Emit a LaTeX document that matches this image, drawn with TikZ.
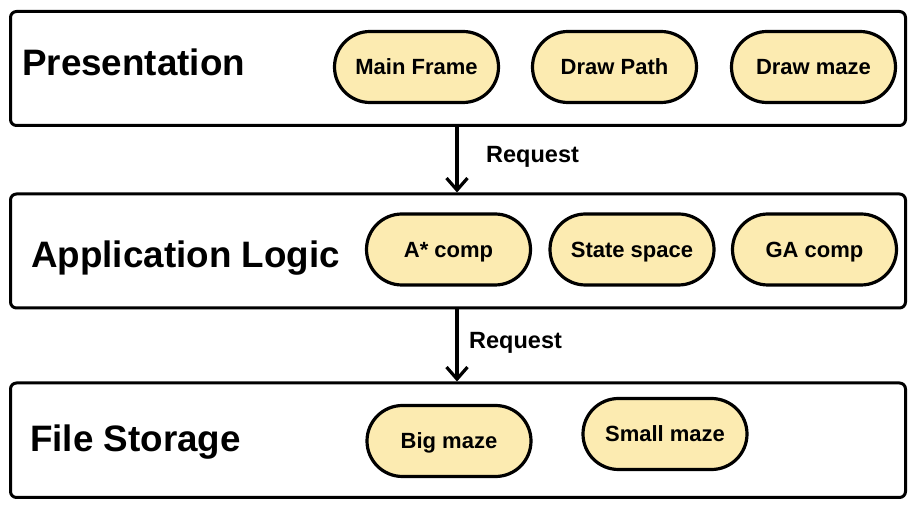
\documentclass[tikz,border=0pt]{standalone}
\usepackage{fontspec}
\setmainfont{Liberation Sans}
\usetikzlibrary{arrows.meta}
\definecolor{pillfill}{HTML}{FCEBB1}
\tikzset{
  layerbox/.style={draw=black, line width=3pt, rounded corners=6pt, fill=white,
    minimum width=895pt, minimum height=114pt, inner sep=0pt},
  heading/.style={anchor=base west, inner sep=0pt, font=\bfseries\fontsize{36.8}{42}\selectfont},
  pill/.style={draw=black, line width=3.2pt, fill=pillfill, rounded corners=35.5pt,
    minimum width=164pt, minimum height=71pt, inner sep=0pt,
    text height=15.7pt, text depth=0pt, font=\bfseries\fontsize{22}{25}\selectfont},
  reqlabel/.style={anchor=base west, inner sep=0pt, font=\bfseries\fontsize{23.5}{26}\selectfont},
  reqarrow/.style={line width=3.2pt, -{Straight Barb[length=12pt,width=21pt]}}
}
\begin{document}
\begin{tikzpicture}[x=1pt, y=-1pt]
\useasboundingbox (0,0) rectangle (922,510);
% layers
\node[layerbox] (pres) at (458,68.5) {};
\node[layerbox] (app)  at (458,251) {};
\node[layerbox, minimum height=114.5pt] (file) at (458,440.25) {};
% headings
\node[heading] (presT) at (22,75.5) {Presentation};
\node[heading] (appT)  at (31,267.5) {Application Logic};
\node[heading] (fileT) at (30,452) {File Storage};
% pills
\node[pill] (mf) at (416.5,67) {Main Frame};
\node[pill] (dp) at (614.5,67) {Draw Path};
\node[pill] (dm) at (813.5,67) {Draw maze};
\node[pill] (as) at (448.5,249.5) {A* comp};
\node[pill] (ss) at (632,249.5) {State space};
\node[pill] (ga) at (814.5,249.5) {GA comp};
\node[pill] (bm) at (449,441) {Big maze};
\node[pill] (sm) at (665,434) {Small maze};
% arrows
\draw[reqarrow] ([xshift=-1pt]pres.south) -- ([xshift=-1pt]app.north);
\draw[reqarrow] ([xshift=-1pt]app.south) -- ([xshift=-1pt]file.north);
\node[reqlabel] (r1) at (486,163) {Request};
\node[reqlabel] (r2) at (469,349) {Request};
\end{tikzpicture}
\end{document}
